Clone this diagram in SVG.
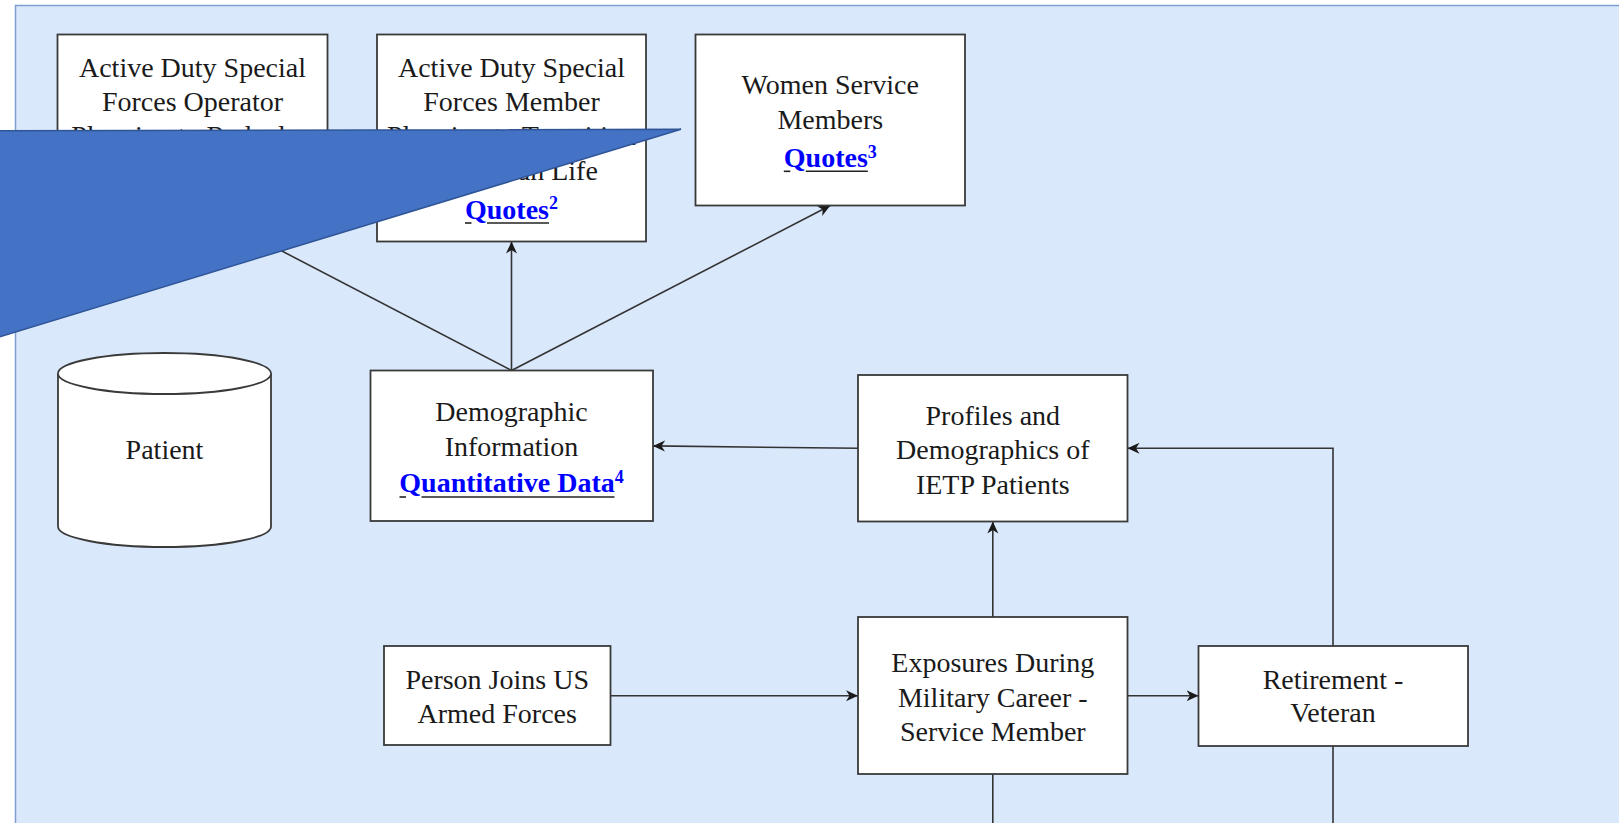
<svg xmlns="http://www.w3.org/2000/svg" width="1619" height="823" viewBox="0 0 1619 823">
  <defs>
    <style>
      .panel { fill: #dae8fc; stroke: #7f9fd0; stroke-width: 1.5; }
      .box { fill: #ffffff; stroke: #3a3a3a; stroke-width: 1.8; }
      .t { font-family: "Liberation Serif", "Times New Roman", serif; font-size: 28px; fill: #1a1a1a; text-anchor: middle; }
      .q { font-weight: bold; fill: #0000ff; }
      .sup { font-size: 18px; }
      .ul { stroke: #222222; stroke-width: 1.6; }
      .edge { fill: none; stroke: #333333; stroke-width: 1.6; }
      .callout { fill: #4472c4; stroke: #2f5597; stroke-width: 1.5; }
    </style>
    <marker id="arrow" markerUnits="userSpaceOnUse" markerWidth="13" markerHeight="12" refX="12" refY="5.5" orient="auto">
      <path d="M0,0 L12,5.5 L0,11 L3.5,5.5 Z" fill="#1a1a1a"/>
    </marker>
  </defs>

  <!-- container -->
  <rect class="panel" x="15.5" y="5.5" width="1700" height="900"/>

  <!-- connectors -->
  <g id="connectors">
    <path class="edge" d="M511.5,370.5 L192.5,204.5" marker-end="url(#arrow)"/>
    <path class="edge" d="M511.5,370.5 L511.5,241.5" marker-end="url(#arrow)"/>
    <path class="edge" d="M511.5,370.5 L830.3,205.5" marker-end="url(#arrow)"/>
    <path class="edge" d="M858,448.3 L653,445.9" marker-end="url(#arrow)"/>
    <path class="edge" d="M992.8,617 L992.8,521.5" marker-end="url(#arrow)"/>
    <path class="edge" d="M610.5,695.7 L858,695.7" marker-end="url(#arrow)"/>
    <path class="edge" d="M1127.5,695.7 L1198.5,695.7" marker-end="url(#arrow)"/>
    <path class="edge" d="M1333,646 L1333,448.3 L1127.5,448.3" marker-end="url(#arrow)"/>
    <path class="edge" d="M992.8,774 L992.8,830"/>
    <path class="edge" d="M1333,746 L1333,830"/>
  </g>

  <!-- special forces operator -->
  <g id="operator">
    <rect class="box" x="57.5" y="34.5" width="270" height="170"/>
    <text class="t" x="192.5" y="77">Active Duty Special</text>
    <text class="t" x="192.5" y="111">Forces Operator</text>
    <text class="t" x="192.5" y="145">Planning to Redeploy</text>
    <text class="t" x="192.5" y="184"><tspan class="q">Quotes</tspan><tspan class="q sup" dy="-9.5">1</tspan></text>
    <line class="ul" x1="146" y1="188" x2="152.5" y2="188"/>
    <line class="ul" x1="168" y1="188" x2="230" y2="188"/>
  </g>

  <!-- special forces member -->
  <g id="member">
    <rect class="box" x="377" y="34.5" width="269" height="207"/>
    <text class="t" x="511.5" y="77">Active Duty Special</text>
    <text class="t" x="511.5" y="111">Forces Member</text>
    <text class="t" x="511.5" y="145">Planning to Transition</text>
    <text class="t" x="511.5" y="179.5">to Civilian Life</text>
    <text class="t" x="511.5" y="219"><tspan class="q">Quotes</tspan><tspan class="q sup" dy="-10">2</tspan></text>
    <line class="ul" x1="465" y1="223" x2="471.5" y2="223"/>
    <line class="ul" x1="487" y1="223" x2="549" y2="223"/>
  </g>

  <!-- women service members -->
  <g id="women">
    <rect class="box" x="695.5" y="34.5" width="269.5" height="171"/>
    <text class="t" x="830.3" y="94">Women Service</text>
    <text class="t" x="830.3" y="129">Members</text>
    <text class="t" x="830.3" y="167.3"><tspan class="q">Quotes</tspan><tspan class="q sup" dy="-9.5">3</tspan></text>
    <line class="ul" x1="783.8" y1="171.3" x2="790.3" y2="171.3"/>
    <line class="ul" x1="805.8" y1="171.3" x2="867.8" y2="171.3"/>
  </g>

  <!-- patient store -->
  <g id="patient">
    <path class="box" d="M58,373.5 A106.5,20.5 0 0 1 271,373.5 V526.5 A106.5,20.5 0 0 1 58,526.5 Z"/>
    <path class="box" fill="none" d="M58,373.5 A106.5,20.5 0 0 0 271,373.5"/>
    <text class="t" x="164.5" y="459">Patient</text>
  </g>

  <!-- demographic information -->
  <g id="demographic">
    <rect class="box" x="370.5" y="370.5" width="282.5" height="150.5"/>
    <text class="t" x="511.5" y="420.7">Demographic</text>
    <text class="t" x="511.5" y="455.7">Information</text>
    <text class="t" x="511.5" y="492.3"><tspan class="q">Quantitative Data</tspan><tspan class="q sup" dy="-9.5">4</tspan></text>
    <line class="ul" x1="399.5" y1="497" x2="406" y2="497"/>
    <line class="ul" x1="421.5" y1="497" x2="614.5" y2="497"/>
  </g>

  <!-- profiles -->
  <g id="profiles">
    <rect class="box" x="858" y="375" width="269.5" height="146.5"/>
    <text class="t" x="992.8" y="424.7">Profiles and</text>
    <text class="t" x="992.8" y="459">Demographics of</text>
    <text class="t" x="992.8" y="494">IETP Patients</text>
  </g>

  <!-- person joins -->
  <g id="joins">
    <rect class="box" x="384" y="646" width="226.5" height="99"/>
    <text class="t" x="497.2" y="689">Person Joins US</text>
    <text class="t" x="497.2" y="723">Armed Forces</text>
  </g>

  <!-- exposures -->
  <g id="exposures">
    <rect class="box" x="858" y="617" width="269.5" height="157"/>
    <text class="t" x="992.8" y="672">Exposures During</text>
    <text class="t" x="992.8" y="707">Military Career -</text>
    <text class="t" x="992.8" y="741">Service Member</text>
  </g>

  <!-- retirement -->
  <g id="retirement">
    <rect class="box" x="1198.5" y="646" width="269.5" height="100"/>
    <text class="t" x="1333" y="689">Retirement -</text>
    <text class="t" x="1333" y="722">Veteran</text>
  </g>

  <!-- wedge overlay -->
  <g id="wedge">
    <polygon class="callout" points="-5,130.8 681,129.3 -5,338.2"/>
  </g>
</svg>
